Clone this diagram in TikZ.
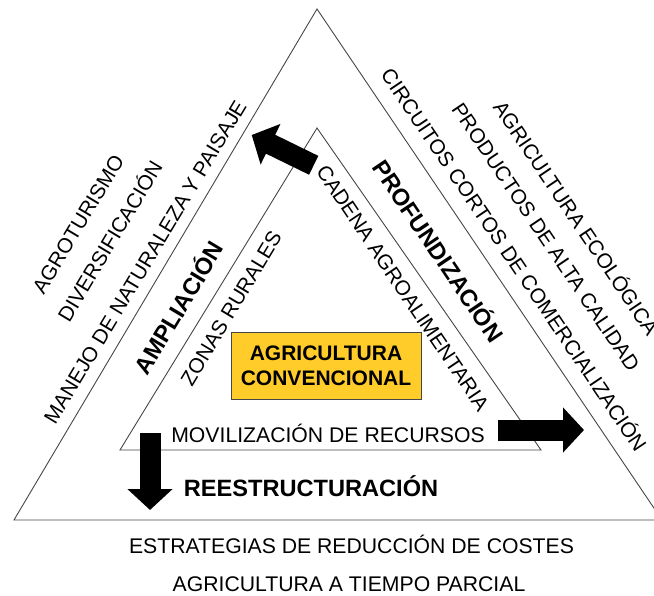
\documentclass[tikz,border=0pt]{standalone}
\usepackage{fontspec}
\setmainfont{Liberation Sans}
\usetikzlibrary{arrows.meta}
\definecolor{boxyellow}{RGB}{255,204,41}
\definecolor{linegray}{RGB}{70,70,70}
\begin{document}
\begin{tikzpicture}[x=1pt,y=-1pt,
  triline/.style={draw=linegray, line width=0.9pt, line join=miter},
  lbl/.style={font=\fontsize{21.2}{24}\selectfont, inner sep=0pt, text height=15.2pt, text depth=0pt},
  rlbl/.style={font=\fontsize{20.8}{24}\selectfont, inner sep=0pt, text height=14.9pt, text depth=0pt},
  blbl/.style={font=\bfseries\fontsize{23.6}{27}\selectfont, inner sep=0pt, text height=16.9pt, text depth=0pt},
  leftlbl/.style={rlbl, rotate=59},
  rightlbl/.style={rlbl, rotate=-56},
  corebox/.style={draw=linegray, line width=0.8pt, fill=boxyellow, minimum width=190pt, minimum height=67pt, inner sep=0pt, align=center, font=\bfseries\fontsize{21}{25}\selectfont},
  blockarrow/.style={line width=21pt, -{Triangle[width=44pt,length=21pt]}}
]
\useasboundingbox (0,0) rectangle (654,596);
\clip (0,0) rectangle (654,596);

% triangles
\coordinate (oA) at (317,9);
\coordinate (oL) at (14,520);
\coordinate (oR) at (662,520);
\coordinate (iA) at (317,128);
\coordinate (iL) at (120,450);
\coordinate (iR) at (541,450);
\draw[triline] (oA) -- (oL) -- (oR) -- cycle;
\draw[triline] (iA) -- (iL) -- (iR) -- cycle;

% central box
\node[corebox] (core) at (326,365.5) {AGRICULTURA\\CONVENCIONAL};

% left side labels
\node[leftlbl] (agrot) at (78,224) {AGROTURISMO};
\node[leftlbl] (divers) at (110,241) {DIVERSIFICACIÓN};
\node[leftlbl] (manejo) at (145,262) {MANEJO DE NATURALEZA Y PAISAJE};
\node[blbl, rotate=59] (ampl) at (179,308) {AMPLIACIÓN};
\node[leftlbl] (zonas) at (231,308) {ZONAS RURALES};

% right side labels
\node[rightlbl] (circ) at (514,260) {CIRCUITOS CORTOS DE COMERCIALIZACIÓN};
\node[rightlbl] (prod) at (546,237) {PRODUCTOS DE ALTA CALIDAD};
\node[rightlbl] (ecol) at (576,218) {AGRICULTURA ECOLÓGICA};
\node[blbl, rotate=-56] (prof) at (438,251) {PROFUNDIZACIÓN};
\node[rightlbl] (cadena) at (403,288) {CADENA AGROALIMENTARIA};

% bottom labels
\node[lbl] (movil) at (328,435) {MOVILIZACIÓN DE RECURSOS};
\node[blbl] (reest) at (311,488) {REESTRUCTURACIÓN};
\node[lbl] (estrat) at (351.5,546) {ESTRATEGIAS DE REDUCCIÓN DE COSTES};
\node[lbl] (tiempo) at (349,584) {AGRICULTURA A TIEMPO PARCIAL};

% block arrows
\coordinate (ulTail) at (313.7,165.3);
\coordinate (ulTip) at (251.7,135);
\coordinate (rTail) at (498,430);
\coordinate (rTip) at (584,430);
\coordinate (dTail) at (150,433);
\coordinate (dTip) at (150,510);
\draw[blockarrow] (ulTail) -- (ulTip);
\draw[blockarrow] (rTail) -- (rTip);
\draw[blockarrow] (dTail) -- (dTip);
\end{tikzpicture}
\end{document}
